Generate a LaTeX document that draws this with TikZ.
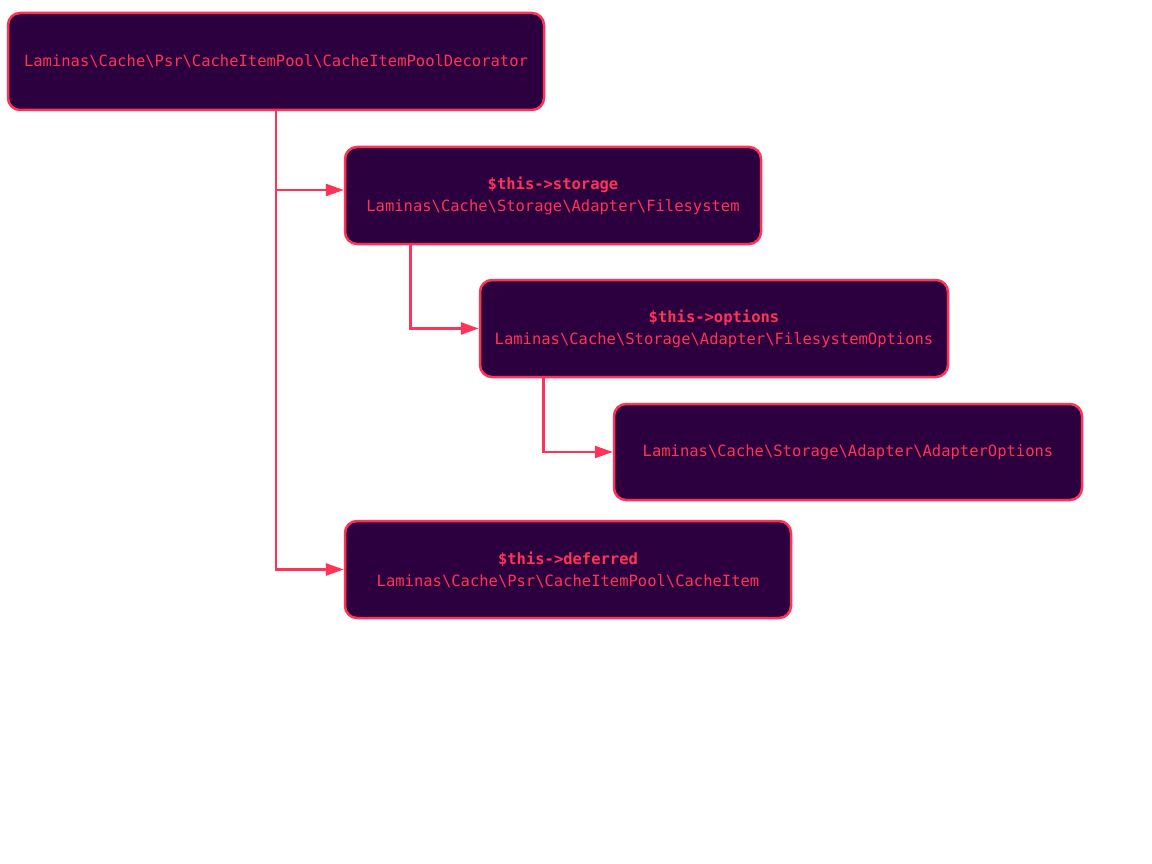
\documentclass[tikz,border=0pt]{standalone}
\usepackage{fontspec}
\setmonofont{DejaVu Sans Mono}
\usetikzlibrary{arrows.meta,calc}
\definecolor{boxfill}{HTML}{2C003E}
\definecolor{pink}{HTML}{FF3358}
\begin{document}
\begin{tikzpicture}[x=1pt,y=1pt,
  cls/.style={draw=pink, fill=boxfill, line width=2.5pt, rounded corners=12pt,
    text=pink, align=center, inner sep=0pt, minimum height=97pt,
    font=\ttfamily\fontsize{15.5}{22}\selectfont},
  conn/.style={draw=pink, line width=2.6pt, -{Triangle[length=18pt,width=12pt]}}]
\useasboundingbox (0,0) rectangle (1152,-864);
\node[cls, minimum width=536pt] (root) at (276,-61.5) {\raisebox{-2pt}{Laminas\textbackslash Cache\textbackslash Psr\textbackslash CacheItemPool\textbackslash CacheItemPoolDecorator}};
\node[cls, minimum width=416pt] (storage) at (553,-195.5) {\textbf{\$this->storage}\\Laminas\textbackslash Cache\textbackslash Storage\textbackslash Adapter\textbackslash Filesystem};
\node[cls, minimum width=468pt] (options) at (714,-328.5) {\textbf{\$this->options}\\Laminas\textbackslash Cache\textbackslash Storage\textbackslash Adapter\textbackslash FilesystemOptions};
\node[cls, minimum width=468pt, minimum height=96pt] (adopt) at (848,-452) {\raisebox{-2pt}{Laminas\textbackslash Cache\textbackslash Storage\textbackslash Adapter\textbackslash AdapterOptions}};
\node[cls, minimum width=446pt] (deferred) at (568,-569.5) {\textbf{\$this->deferred}\\Laminas\textbackslash Cache\textbackslash Psr\textbackslash CacheItemPool\textbackslash CacheItem};
\draw[conn] (root.south) |- ([yshift=5.5pt]storage.west);
\draw[conn] (root.south) |- (deferred.west);
\draw[conn] ([xshift=66.5pt]storage.south west) |- (options.west);
\draw[conn] ([xshift=65pt]options.south west) |- (adopt.west);
\end{tikzpicture}
\end{document}
